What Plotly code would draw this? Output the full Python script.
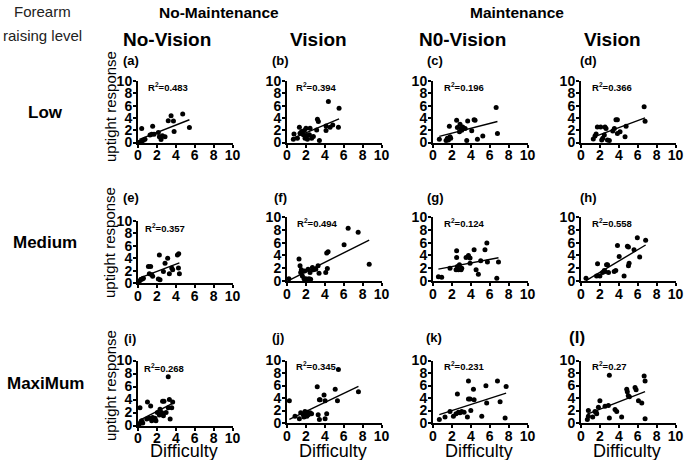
import numpy as np
import plotly.graph_objects as go

# ---------------- data ----------------
a_x = [0.15, 0.39, 0.39, 0.57, 0.74, 1.27, 1.45, 1.55, 1.7, 2.15, 2.26, 2.44, 2.58, 2.86, 3.2, 3.5, 3.75, 3.82, 4.73, 5.44]
a_y = [0.05, 0.22, 2.28, 0.38, 0.54, 1.2, 1.36, 2.66, 1.36, 1.63, 0.92, 0.49, 1.09, 0.92, 3.53, 4.35, 3.48, 1.79, 4.62, 2.45]

b_x = [0.67, 0.74, 1.1, 1.31, 1.38, 1.55, 1.73, 1.84, 2.01, 1.91, 2.08, 2.16, 2.37, 2.44, 2.61, 2.79, 3.14, 3.22, 3.32, 3.43, 4.13, 4.13, 4.38, 4.56, 4.84, 5.44, 5.51]
b_y = [0.54, 1.4, 0.7, 2.49, 1.51, 1.78, 1.24, 1.95, 2.32, 0.7, 1.14, 0.54, 1.24, 2.32, 0.7, 0.97, 2.05, 3.78, 3.4, 0.32, 2.7, 1.95, 6.65, 2.49, 2.86, 2.49, 5.57]

c_x = [0.67, 1.38, 1.52, 1.63, 1.73, 1.8, 1.87, 2.5, 2.58, 2.8, 2.86, 2.97, 3.04, 3.14, 3.4, 3.57, 3.67, 4.1, 4.35, 4.45, 4.7, 5.27, 6.68, 6.82]
c_y = [0.53, 0.32, 0.69, 0.42, 2.65, 0.95, 0.69, 3.6, 2.43, 1.75, 2.96, 2.28, 2.0, 2.54, 2.28, 0.32, 3.5, 1.9, 3.7, 3.6, 0.53, 1.06, 5.7, 1.48]

d_x = [1.3, 1.48, 1.6, 1.73, 2.08, 2.19, 2.3, 2.47, 2.54, 2.65, 2.8, 3.0, 3.36, 3.53, 3.7, 3.85, 3.85, 4.13, 4.66, 4.77, 6.68, 6.78]
d_y = [0.58, 1.06, 1.38, 2.54, 2.54, 0.42, 0.69, 1.2, 2.54, 2.28, 0.42, 0.32, 1.85, 2.28, 3.7, 3.7, 1.48, 1.75, 0.95, 2.65, 5.8, 3.44]

e_x = [0.14, 0.28, 0.46, 0.57, 1.1, 1.34, 1.2, 1.45, 1.55, 2.15, 2.26, 2.33, 2.69, 2.86, 3.14, 3.32, 3.57, 3.67, 4.17, 4.31, 4.28, 4.38]
e_y = [0.27, 0.53, 0.64, 0.75, 2.67, 2.67, 1.5, 1.33, 1.07, 0.64, 4.53, 0.53, 1.87, 3.2, 4.0, 1.5, 2.4, 2.13, 4.53, 4.7, 2.4, 1.5]

f_x = [0.2, 1.27, 1.38, 1.45, 1.52, 1.63, 1.8, 1.87, 1.98, 2.15, 2.23, 2.33, 2.44, 2.5, 2.69, 2.79, 3.04, 3.29, 3.39, 4.1, 4.2, 4.35, 4.27, 6.04, 6.47, 7.53, 8.7]
f_y = [0.37, 3.42, 2.37, 1.32, 1.74, 0.79, 0.37, 1.58, 0.37, 0.26, 1.84, 0.37, 1.32, 0.26, 2.1, 1.74, 1.84, 2.37, 1.21, 1.32, 4.37, 4.58, 1.95, 5.68, 8.26, 7.63, 2.63]

g_x = [0.57, 0.92, 1.8, 2.5, 2.5, 2.44, 2.58, 2.69, 2.8, 2.97, 3.04, 3.5, 3.75, 3.92, 3.92, 4.35, 4.56, 4.8, 5.05, 5.5, 5.7, 5.76, 6.75, 6.93]
g_y = [0.68, 0.58, 2.0, 4.74, 3.68, 1.74, 2.26, 1.74, 2.53, 1.74, 2.0, 3.68, 4.0, 3.58, 2.79, 4.9, 1.74, 1.05, 3.16, 4.9, 5.95, 2.95, 0.42, 2.95]

h_x = [0.53, 1.65, 1.75, 2.0, 2.28, 2.46, 2.56, 2.7, 2.81, 2.91, 3.51, 3.68, 3.86, 4.04, 4.56, 4.91, 5.02, 5.02, 5.09, 5.61, 5.96, 6.21, 6.84]
h_y = [0.42, 0.79, 2.68, 0.79, 1.32, 1.63, 1.47, 2.53, 2.53, 1.32, 1.47, 1.63, 5.53, 3.84, 0.79, 5.42, 5.32, 2.37, 2.79, 4.89, 6.74, 3.74, 6.37]

i_x = [0.14, 0.21, 0.28, 0.39, 0.5, 0.92, 1.0, 1.2, 1.34, 1.45, 1.55, 1.8, 1.9, 2.05, 2.26, 2.33, 2.5, 2.6, 2.75, 2.69, 2.97, 3.2, 3.32, 3.2, 3.4, 3.57, 3.67]
i_y = [0.25, 2.75, 0.5, 0.75, 0.4, 1.0, 3.6, 1.1, 3.0, 0.75, 1.25, 1.1, 0.75, 2.0, 1.6, 2.5, 2.0, 3.75, 3.75, 1.5, 2.0, 2.75, 4.0, 7.5, 1.0, 2.75, 3.6]

j_x = [0.25, 0.85, 1.31, 1.45, 1.73, 1.8, 1.9, 2.0, 2.1, 2.15, 2.26, 2.44, 2.6, 3.3, 3.2, 3.43, 3.5, 3.43, 3.92, 4.03, 4.03, 4.2, 5.1, 5.34, 5.44, 7.56]
j_y = [3.58, 1.1, 0.68, 1.63, 1.32, 0.95, 1.84, 1.47, 1.1, 1.74, 1.32, 1.63, 1.47, 1.32, 5.79, 3.74, 3.74, 0.58, 4.47, 3.58, 0.68, 1.47, 5.42, 3.58, 8.58, 5.0]

k_x = [0.67, 1.27, 1.8, 2.16, 2.44, 2.58, 2.69, 2.86, 3.04, 3.29, 3.64, 3.75, 3.75, 3.92, 4.0, 4.28, 4.35, 5.16, 5.6, 5.68, 6.82, 7.1, 7.63, 7.74]
k_y = [0.58, 0.95, 1.84, 1.1, 1.47, 4.63, 1.74, 1.63, 1.84, 1.74, 0.95, 6.74, 3.84, 3.84, 2.0, 5.42, 3.74, 1.1, 5.95, 3.2, 6.74, 3.42, 0.79, 5.84]

l_x = [0.67, 0.78, 0.78, 1.24, 1.48, 1.6, 1.66, 1.84, 2.0, 2.54, 2.9, 3.0, 3.0, 3.6, 3.78, 4.3, 4.84, 4.9, 5.0, 5.12, 5.72, 5.83, 6.08, 6.43, 6.68, 6.78, 6.78]
l_y = [0.58, 1.1, 2.0, 0.95, 1.84, 1.74, 1.47, 2.53, 3.58, 2.68, 2.79, 7.63, 0.79, 2.16, 1.84, 0.95, 5.42, 5.0, 4.37, 4.2, 5.68, 5.32, 3.58, 3.2, 7.53, 6.74, 0.68]

r2_values = ["0.483", "0.394", "0.196", "0.366",
             "0.357", "0.494", "0.124", "0.558",
             "0.268", "0.345", "0.231", "0.27"]
panel_letters = ["(a)", "(b)", "(c)", "(d)", "(e)", "(f)", "(g)", "(h)",
                 "(i)", "(j)", "(k)", "(l)"]
group_titles = ["No-Maintenance", "Maintenance"]
column_titles = ["No-Vision", "Vision", "N0-Vision", "Vision"]
row_titles = ["Low", "Medium", "MaxiMum"]
y_title = "uptight response"
x_title = "Difficulty"
corner_title = ["Forearm", "raising level"]
tick_vals = [0, 2, 4, 6, 8, 10]

panels = [(a_x, a_y), (b_x, b_y), (c_x, c_y), (d_x, d_y),
          (e_x, e_y), (f_x, f_y), (g_x, g_y), (h_x, h_y),
          (i_x, i_y), (j_x, j_y), (k_x, k_y), (l_x, l_y)]

# ---------------- layout geometry (pixels) ----------------
W, H = 685, 460
FONT = "Liberation Sans, Arial, sans-serif"
col_x0 = [138, 287, 433, 581]
x_span = 94.5
y0_px = [142.5, 142.5, 142.5, 142.5, 283, 281, 281, 281, 425.5, 423, 423, 423]
y10_px = [81, 81, 81, 81, 221, 217, 217, 217, 360.5, 360.5, 360.5, 360.5]
r2_pos = [(0.85, 9.0), (0.75, 9.0), (0.95, 9.0), (0.95, 9.0),
          (0.5, 8.9), (0.85, 9.1), (0.95, 9.1), (1.0, 9.1),
          (0.4, 8.8), (0.75, 9.1), (0.95, 9.1), (0.95, 9.1)]
letter_px = [(131, 60), (280, 60), (435, 60), (588, 60),
             (131, 198), (280, 197), (435, 197), (588, 197),
             (130, 338), (278, 337), (434, 337), (577, 337)]


def px(x):
    return x / W


def py(y):
    return 1 - y / H


fig = go.Figure()
layout = dict(
    width=W, height=H, margin=dict(l=0, r=0, t=0, b=0, pad=0, autoexpand=False),
    paper_bgcolor="white", plot_bgcolor="white", showlegend=False,
    font=dict(family=FONT, color="black"),
)

tickfont = dict(family=FONT, size=14, color="black", weight="bold")
annotations = []

for n, (xs, ys) in enumerate(panels):
    idx = n + 1
    r, c = divmod(n, 4)
    xname = "xaxis" if idx == 1 else f"xaxis{idx}"
    yname = "yaxis" if idx == 1 else f"yaxis{idx}"
    xref = "x" if idx == 1 else f"x{idx}"
    yref = "y" if idx == 1 else f"y{idx}"
    x0 = col_x0[c]
    layout[xname] = dict(
        domain=[px(x0), px(x0 + x_span)], range=[0, 10], tickvals=tick_vals,
        anchor=yref, showline=True, linecolor="black", linewidth=2,
        ticks="outside", ticklen=3, tickwidth=2, tickcolor="black",
        showgrid=False, zeroline=False, tickfont=tickfont, fixedrange=True,
        automargin=False, ticklabelstandoff=-4,
    )
    layout[yname] = dict(
        domain=[py(y0_px[n]), py(y10_px[n])], range=[0, 10], tickvals=tick_vals,
        anchor=xref, showline=True, linecolor="black", linewidth=2,
        ticks="outside", ticklen=3, tickwidth=2, tickcolor="black",
        showgrid=False, zeroline=False, tickfont=tickfont, fixedrange=True,
        automargin=False, ticklabelstandoff=-2,
    )
    xa = np.array(xs)
    ya = np.array(ys)
    slope, inter = np.polyfit(xa, ya, 1)
    lx = np.array([xa.min(), xa.max()])
    fig.add_trace(go.Scatter(x=lx, y=slope * lx + inter, mode="lines",
                             line=dict(color="black", width=1.4),
                             xaxis=xref, yaxis=yref, hoverinfo="skip"))
    fig.add_trace(go.Scatter(x=xs, y=ys, mode="markers",
                             marker=dict(color="black", size=5),
                             xaxis=xref, yaxis=yref, cliponaxis=False))
    annotations.append(dict(
        x=r2_pos[n][0], y=r2_pos[n][1], xref=xref, yref=yref,
        text=f"R<sup>2</sup>={r2_values[n]}", showarrow=False,
        xanchor="left", yanchor="middle",
        font=dict(family=FONT, size=9.5, color="black", weight="bold")))
    lx_px, ly_px = letter_px[n]
    annotations.append(dict(
        x=px(lx_px), y=py(ly_px), xref="paper", yref="paper",
        text=panel_letters[n], showarrow=False, xanchor="center", yanchor="middle",
        font=dict(family=FONT, size=17 if n == 11 else 13, color="black", weight="bold")))

# group titles
for t, cx in zip(group_titles, [219, 517]):
    annotations.append(dict(x=px(cx), y=py(13), xref="paper", yref="paper", text=t,
                            showarrow=False, xanchor="center", yanchor="middle",
                            font=dict(family=FONT, size=15.5, weight="bold")))
# column titles
for t, cx in zip(column_titles, [167, 318, 462, 612]):
    annotations.append(dict(x=px(cx), y=py(40), xref="paper", yref="paper", text=t,
                            showarrow=False, xanchor="center", yanchor="middle",
                            font=dict(family=FONT, size=19, weight="bold")))
# row titles
for t, cy in zip(row_titles, [112, 243, 383]):
    annotations.append(dict(x=px(45), y=py(cy), xref="paper", yref="paper", text=t,
                            showarrow=False, xanchor="center", yanchor="middle",
                            font=dict(family=FONT, size=17, weight="bold")))
# y titles
for cy in [107, 243, 386]:
    annotations.append(dict(x=px(110), y=py(cy), xref="paper", yref="paper", text=y_title,
                            showarrow=False, xanchor="center", yanchor="middle",
                            textangle=-90, font=dict(family=FONT, size=15)))
# x titles
for cx in [184, 333, 479, 627]:
    annotations.append(dict(x=px(cx), y=py(451), xref="paper", yref="paper", text=x_title,
                            showarrow=False, xanchor="center", yanchor="middle",
                            font=dict(family=FONT, size=18)))
# corner title
for t, cy in zip(corner_title, [12, 35]):
    annotations.append(dict(x=px(42), y=py(cy), xref="paper", yref="paper", text=t,
                            showarrow=False, xanchor="center", yanchor="middle",
                            font=dict(family=FONT, size=15, color="#222")))

layout["annotations"] = annotations
fig.update_layout(**layout)
fig.write_html("out.html", config={"displayModeBar": False, "staticPlot": True},
               post_script="document.body.style.margin='0';document.body.style.overflow='hidden';")
